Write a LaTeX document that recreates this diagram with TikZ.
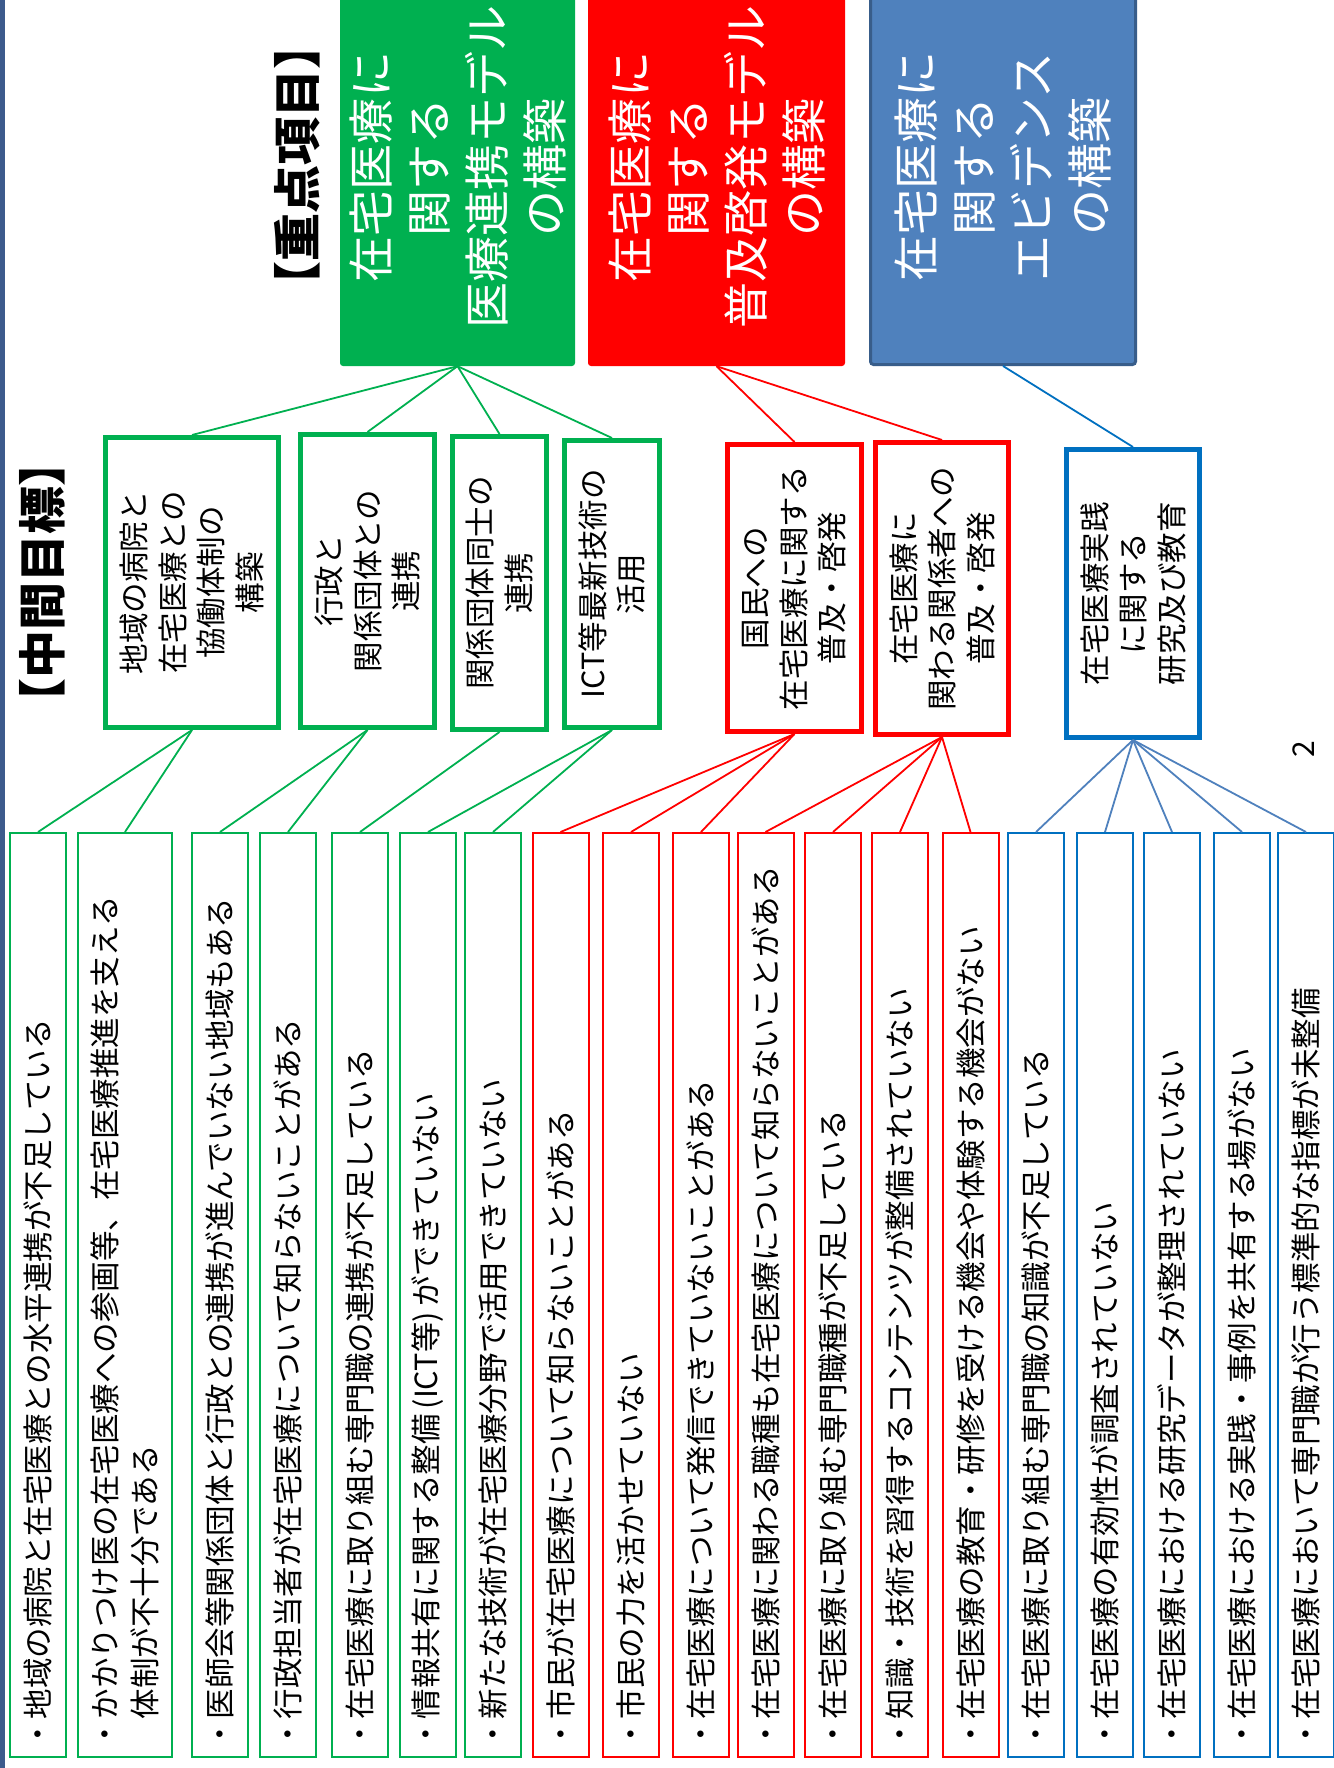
\documentclass[tikz,border=0pt]{standalone}
\usepackage{fontspec}
\setmainfont{Noto Sans CJK JP}
\definecolor{cgreen}{HTML}{00B050}
\definecolor{cred}{HTML}{FF0000}
\definecolor{cbluefill}{HTML}{4F81BD}
\definecolor{cblueedge}{HTML}{385D8A}
\definecolor{cblue}{HTML}{0070C0}
\definecolor{cbluelight}{HTML}{4F81BD}
\definecolor{cbar}{HTML}{3C5A8C}
\begin{document}
\begin{tikzpicture}[x=1pt,y=-1pt,
  topbox/.style={inner sep=0pt, rounded corners=3pt, minimum height=376pt},
  midbox/.style={draw, line width=5pt, fill=white, inner sep=0pt},
  botbox/.style={draw, line width=2pt, fill=white, inner sep=0pt, minimum height=924pt, minimum width=56pt},
  toptext/.style={rotate=90, align=center, text=white, inner sep=0pt, font=\fontsize{46}{58}\selectfont},
  midtext/.style={rotate=90, align=center, inner sep=0pt, font=\fontsize{30.5}{38.5}\selectfont},
  bottext/.style={rotate=90, anchor=west, align=left, inner sep=0pt, font=\fontsize{30.5}{40}\selectfont},
  headtext/.style={rotate=90, inner sep=0pt, font=\fontsize{48}{56}\selectfont\bfseries},
  gconn/.style={draw=cgreen, line width=1.8pt},
  rconn/.style={draw=cred, line width=1.8pt},
  bconn/.style={draw=cbluelight, line width=1.8pt}
]
\useasboundingbox (0,0) rectangle (1333,1768);
\fill[white] (0,0) rectangle (1333,1768);
\node[fill=cbar, inner sep=0pt, minimum width=5pt, minimum height=1768pt] (leftbar) at (2.5,884) {};

% top boxes
\node[topbox, fill=cgreen, minimum width=235pt] (gtop) at (457.5,178) {};
\node[topbox, fill=cred, minimum width=257pt] (rtop) at (716.5,178) {};
\node[topbox, fill=cbluefill, draw=cblueedge, line width=3pt, minimum width=265pt, minimum height=373pt] (btop) at (1003,178) {};
\node[toptext] (gtopt) at (457.5,167) {在宅医療に\\関する\\医療連携モデル\\の構築};
\node[toptext] (rtopt) at (716.5,167) {在宅医療に\\関する\\普及啓発モデル\\の構築};
\node[toptext] (btopt) at (1003,167) {在宅医療に\\関する\\エビデンス\\の構築};

% headings
\node[headtext] (head1) at (297,166) {【重点項目】};
\node[headtext] (head2) at (42,582) {【中間目標】};
\node[rotate=90, inner sep=0pt, font=\fontsize{30}{36}\selectfont] (pnum) at (1304,749) {2};

% middle boxes
\node[midbox, draw=cgreen, minimum width=173pt, minimum height=290pt] (m1) at (192,582.5) {};
\node[midbox, draw=cgreen, minimum width=134pt, minimum height=293pt] (m2) at (367.5,581) {};
\node[midbox, draw=cgreen, minimum width=94pt, minimum height=293pt] (m3) at (499.5,583) {};
\node[midbox, draw=cgreen, minimum width=95pt, minimum height=287pt] (m4) at (612,584) {};
\node[midbox, draw=cred, minimum width=134pt, minimum height=287pt] (m5) at (794.5,588) {};
\node[midbox, draw=cred, minimum width=133pt, minimum height=292pt] (m6) at (942,588.5) {};
\node[midbox, draw=cblue, minimum width=133pt, minimum height=288pt] (m7) at (1133,593.5) {};

\node[midtext] (m1t) at (m1.center) {地域の病院と\\在宅医療との\\協働体制の\\構築};
\node[midtext] (m2t) at (m2.center) {行政と\\関係団体との\\連携};
\node[midtext] (m3t) at (m3.center) {関係団体同士の\\連携};
\node[midtext] (m4t) at (m4.center) {ICT等最新技術の\\活用};
\node[midtext] (m5t) at (m5.center) {国民への\\在宅医療に関する\\普及・啓発};
\node[midtext] (m6t) at (m6.center) {在宅医療に\\関わる関係者への\\普及・啓発};
\node[midtext] (m7t) at (m7.center) {在宅医療実践\\に関する\\研究及び教育};

% bottom boxes
\node[botbox, draw=cgreen] (b1) at (38,1295) {};
\node[botbox, draw=cgreen, minimum width=94pt] (b2) at (125,1295) {};
\node[botbox, draw=cgreen] (b3) at (220,1295) {};
\node[botbox, draw=cgreen] (b4) at (288,1295) {};
\node[botbox, draw=cgreen] (b5) at (360,1295) {};
\node[botbox, draw=cgreen] (b6) at (428,1295) {};
\node[botbox, draw=cgreen] (b7) at (493,1295) {};
\node[botbox, draw=cred] (b8) at (560.5,1295) {};
\node[botbox, draw=cred] (b9) at (631,1295) {};
\node[botbox, draw=cred] (b10) at (701,1295) {};
\node[botbox, draw=cred] (b11) at (765.5,1295) {};
\node[botbox, draw=cred] (b12) at (833,1295) {};
\node[botbox, draw=cred] (b13) at (900,1295) {};
\node[botbox, draw=cred] (b14) at (970.5,1295) {};
\node[botbox, draw=cblue] (b15) at (1036,1295) {};
\node[botbox, draw=cblue] (b16) at (1105,1295) {};
\node[botbox, draw=cblue] (b17) at (1172,1295) {};
\node[botbox, draw=cblue] (b18) at (1242,1295) {};
\node[botbox, draw=cblue] (b19) at (1306,1295) {};

\node[bottext] (t1) at ([yshift=8pt]b1.south) {・地域の病院と在宅医療との水平連携が不足している};
\node[bottext] (t2) at ([yshift=8pt]b2.south) {・かかりつけ医の在宅医療への参画等、在宅医療推進を支える\\\hspace*{1em}体制が不十分である};
\node[bottext] (t3) at ([yshift=8pt]b3.south) {・医師会等関係団体と行政との連携が進んでいない地域もある};
\node[bottext] (t4) at ([yshift=8pt]b4.south) {・行政担当者が在宅医療について知らないことがある};
\node[bottext] (t5) at ([yshift=8pt]b5.south) {・在宅医療に取り組む専門職の連携が不足している};
\node[bottext] (t6) at ([yshift=8pt]b6.south) {・情報共有に関する整備\,(ICT等)\,ができていない};
\node[bottext] (t7) at ([yshift=8pt]b7.south) {・新たな技術が在宅医療分野で活用できていない};
\node[bottext] (t8) at ([yshift=8pt]b8.south) {・市民が在宅医療について知らないことがある};
\node[bottext] (t9) at ([yshift=8pt]b9.south) {・市民の力を活かせていない};
\node[bottext] (t10) at ([yshift=8pt]b10.south) {・在宅医療について発信できていないことがある};
\node[bottext] (t11) at ([yshift=8pt]b11.south) {・在宅医療に関わる職種も在宅医療について知らないことがある};
\node[bottext] (t12) at ([yshift=8pt]b12.south) {・在宅医療に取り組む専門職種が不足している};
\node[bottext] (t13) at ([yshift=8pt]b13.south) {・知識・技術を習得するコンテンツが整備されていない};
\node[bottext] (t14) at ([yshift=8pt]b14.south) {・在宅医療の教育・研修を受ける機会や体験する機会がない};
\node[bottext] (t15) at ([yshift=8pt]b15.south) {・在宅医療に取り組む専門職の知識が不足している};
\node[bottext] (t16) at ([yshift=8pt]b16.south) {・在宅医療の有効性が調査されていない};
\node[bottext] (t17) at ([yshift=8pt]b17.south) {・在宅医療における研究データが整理されていない};
\node[bottext] (t18) at ([yshift=8pt]b18.south) {・在宅医療における実践・事例を共有する場がない};
\node[bottext] (t19) at ([yshift=8pt]b19.south) {・在宅医療において専門職が行う標準的な指標が未整備};

% connectors top -> middle
\foreach \m in {m1,m2,m3,m4} \draw[gconn] (gtop.south) -- (\m.north);
\foreach \m in {m5,m6} \draw[rconn] (rtop.south) -- (\m.north);
\draw[draw=cblue, line width=1.8pt] (btop.south) -- (m7.north);

% connectors middle -> bottom
\foreach \b in {b1,b2} \draw[gconn] (m1.south) -- (\b.north);
\foreach \b in {b3,b4} \draw[gconn] (m2.south) -- (\b.north);
\draw[gconn] (m3.south) -- (b5.north);
\foreach \b in {b6,b7} \draw[gconn] (m4.south) -- (\b.north);
\foreach \b in {b8,b9,b10} \draw[rconn] (m5.south) -- (\b.north);
\foreach \b in {b11,b12,b13,b14} \draw[rconn] (m6.south) -- (\b.north);
\foreach \b in {b15,b16,b17,b18,b19} \draw[bconn] (m7.south) -- (\b.north);
\end{tikzpicture}
\end{document}
